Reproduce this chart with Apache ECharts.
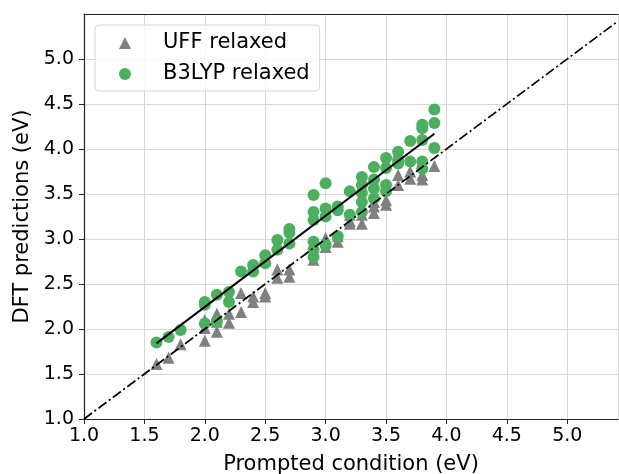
<!DOCTYPE html>
<html>
<head>
<meta charset="utf-8">
<script src="https://cdn.jsdelivr.net/npm/echarts@6/dist/echarts.min.js"></script>
<style>
  html, body { margin: 0; padding: 0; background: #fff; }
  #chart { width: 619px; height: 474px; }
</style>
</head>
<body>
<div id="chart"></div>
<script>
// Prompted condition (eV) -> DFT prediction (eV), UFF-relaxed geometries
const uffX = [1.6, 1.7, 1.8, 2.0, 2.0, 2.0, 2.1, 2.1, 2.1, 2.2, 2.2, 2.3, 2.3, 2.4, 2.4, 2.5, 2.5,
  2.6, 2.6, 2.7, 2.7, 2.9, 2.9, 2.9, 3.0, 3.0, 3.1, 3.1, 3.2, 3.2, 3.2, 3.3, 3.3,
  3.4, 3.4, 3.4, 3.5, 3.5, 3.6, 3.6, 3.7, 3.7, 3.8, 3.8, 3.9];
const uffY = [1.61, 1.68, 1.83, 1.87, 2.01, 2.10, 1.97, 2.08, 2.17, 2.07, 2.17, 2.19, 2.40, 2.30, 2.36, 2.36, 2.40,
  2.57, 2.66, 2.58, 2.66, 2.77, 2.85, 2.92, 2.91, 3.01, 2.97, 3.03, 3.17, 3.20, 3.27, 3.17, 3.27,
  3.29, 3.36, 3.41, 3.38, 3.43, 3.60, 3.71, 3.67, 3.75, 3.66, 3.71, 3.81];

// Same prompts, B3LYP-relaxed geometries
const b3lypX = [1.6, 1.7, 1.8, 2.0, 2.0, 2.0, 2.1, 2.1, 2.2, 2.2, 2.3, 2.4, 2.4, 2.5, 2.5,
  2.6, 2.6, 2.7, 2.7, 2.7, 2.9, 2.9, 2.9, 2.9, 2.9, 2.9, 3.0, 3.0, 3.0, 3.0,
  3.1, 3.1, 3.1, 3.2, 3.2, 3.3, 3.3, 3.3, 3.3, 3.3, 3.4, 3.4, 3.4, 3.4,
  3.5, 3.5, 3.5, 3.5, 3.6, 3.6, 3.6, 3.7, 3.7, 3.8, 3.8, 3.8, 3.8, 3.8, 3.9, 3.9, 3.9];
const b3lypY = [1.85, 1.91, 1.99, 2.06, 2.27, 2.30, 2.08, 2.38, 2.30, 2.41, 2.64, 2.64, 2.71, 2.73, 2.82,
  2.88, 2.99, 2.95, 3.07, 3.11, 2.80, 2.88, 2.97, 3.21, 3.30, 3.49, 2.93, 3.25, 3.34, 3.62,
  3.03, 3.32, 3.36, 3.27, 3.53, 3.30, 3.41, 3.51, 3.60, 3.69, 3.45, 3.56, 3.66, 3.80,
  3.53, 3.60, 3.79, 3.90, 3.84, 3.88, 3.97, 3.86, 4.09, 3.78, 3.86, 4.10, 4.23, 4.27, 4.01, 4.29, 4.44];

// Linear fit through the B3LYP points (end points) and the y = x parity line
const fitLine = [[1.6, 1.84], [3.9, 4.17]];
const parityLine = [[1.0, 1.0], [5.42, 5.42]];

const xTicks = [1.0, 1.5, 2.0, 2.5, 3.0, 3.5, 4.0, 4.5, 5.0];
const yTicks = [1.0, 1.5, 2.0, 2.5, 3.0, 3.5, 4.0, 4.5, 5.0];

const xRange = [1.0, 5.42];
const yRange = [1.0, 5.5];

const pair = (xs, ys) => xs.map((x, i) => [x, ys[i]]);
const onTick = list => v => list.some(t => Math.abs(t - v) < 1e-6) ? v.toFixed(1) : '';

const FONT = 'DejaVu Sans';
const chart = echarts.init(document.getElementById('chart'), null, { renderer: 'canvas' });

chart.setOption({
  animation: false,
  textStyle: { fontFamily: FONT },
  grid: { left: 84, top: 14, right: 1, bottom: 55, containLabel: false, outerBoundsMode: 'none' },
  xAxis: [{
    type: 'value', min: xRange[0], max: xRange[1], interval: 0.5,
    name: 'Prompted condition (eV)', nameLocation: 'middle', nameGap: 35,
    nameTextStyle: { fontSize: 21, color: '#000', fontFamily: FONT },
    axisLine: { show: true, onZero: false, lineStyle: { color: '#222', width: 1.2 } },
    axisTick: { show: true, length: 5, lineStyle: { color: '#222' } },
    axisLabel: { fontSize: 19, color: '#000', margin: 8, formatter: onTick(xTicks), showMaxLabel: false },
    splitLine: { show: true, lineStyle: { color: '#d6d6d6', width: 1 } }
  }, {
    type: 'value', position: 'top', min: xRange[0], max: xRange[1],
    axisLine: { show: true, onZero: false, lineStyle: { color: '#222', width: 1.2 } },
    axisTick: { show: false }, axisLabel: { show: false }, splitLine: { show: false }
  }],
  yAxis: {
    type: 'value', min: yRange[0], max: yRange[1], interval: 0.5,
    name: 'DFT predictions (eV)', nameLocation: 'middle', nameGap: 47, nameRotate: 90,
    nameTextStyle: { fontSize: 21, color: '#000', fontFamily: FONT },
    axisLine: { show: true, onZero: false, lineStyle: { color: '#222', width: 1.2 } },
    axisTick: { show: true, length: 5, lineStyle: { color: '#222' } },
    axisLabel: { fontSize: 19, color: '#000', margin: 10, formatter: onTick(yTicks), showMaxLabel: false },
    splitLine: { show: true, lineStyle: { color: '#d6d6d6', width: 1 } }
  },
  legend: {
    orient: 'vertical', left: 95, top: 25,
    padding: [6, 10, 5, 24], itemGap: 7,
    itemWidth: 12, itemHeight: 12,
    backgroundColor: 'rgba(255,255,255,0.85)',
    borderColor: '#d4d4d4', borderWidth: 1, borderRadius: 4,
    textStyle: { fontSize: 21, color: '#000', fontFamily: FONT, lineHeight: 24, padding: [0, 0, 0, 27] },
    data: [
      { name: 'UFF relaxed', icon: 'triangle' },
      { name: 'B3LYP relaxed', icon: 'circle' }
    ]
  },
  series: [
    {
      name: 'UFF relaxed', type: 'scatter', symbol: 'triangle', symbolSize: 12,
      itemStyle: { color: '#808080', opacity: 1 },
      data: pair(uffX, uffY), z: 2
    },
    {
      name: 'B3LYP relaxed', type: 'scatter', symbol: 'circle', symbolSize: 12,
      itemStyle: { color: '#4caf5f', opacity: 1 },
      data: pair(b3lypX, b3lypY), z: 3
    },
    {
      name: 'fit', type: 'line', data: fitLine, showSymbol: false, symbol: 'none',
      lineStyle: { color: '#000', width: 2 }, z: 4, silent: true
    },
    {
      name: 'parity', type: 'line', data: parityLine, showSymbol: false, symbol: 'none',
      lineStyle: { color: '#000', width: 1.7, type: [10, 3, 2, 3] }, z: 4, silent: true
    }
  ]
});
</script>
</body>
</html>
